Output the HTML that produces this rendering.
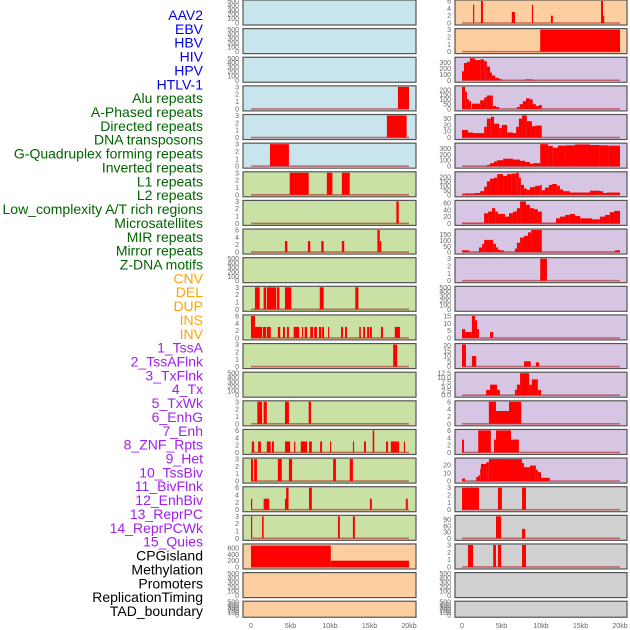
<!DOCTYPE html>
<html><head><meta charset="utf-8"><style>
body{margin:0;background:#fff;}
svg{display:block;font-family:"Liberation Sans",sans-serif;}
</style></head><body>
<svg id="chart" width="630" height="630" viewBox="0 0 630 630" xmlns="http://www.w3.org/2000/svg"></svg>
<script>
const labels=["AAV2","EBV","HBV","HIV","HPV","HTLV-1","Alu repeats","A-Phased repeats","Directed repeats","DNA transposons","G-Quadruplex forming repeats","Inverted repeats","L1 repeats","L2 repeats","Low_complexity A/T rich regions","Microsatellites","MIR repeats","Mirror repeats","Z-DNA motifs","CNV","DEL","DUP","INS","INV","1_TssA","2_TssAFlnk","3_TxFlnk","4_Tx","5_TxWk","6_EnhG","7_Enh","8_ZNF_Rpts","9_Het","10_TssBiv","11_BivFlnk","12_EnhBiv","13_ReprPC","14_ReprPCWk","15_Quies","CPGisland","Methylation","Promoters","ReplicationTiming","TAD_boundary"];
const labelGroups=[6,13,5,15,5];
const xTicks=[0,5,10,15,20];
const xTickLabels=["0","5kb","10kb","15kb","20kb"];
const T500=[0,100,200,300,400,500],T3=[0,1,2,3],T6=[0,2,4,6];
const leftBg=["b","b","b","b","b","b","g","g","g","g","g","g","g","g","g","g","g","g","g","o","o","o"];
const rightBg=["o","o","p","p","p","p","p","p","p","p","p","p","p","p","p","p","p","k","k","k","k","k"];
const leftMax=[500,500,500,3,3,3,3,3,6,500,3,6,3,500,3,6,3,6,3,700,500,500];
const rightMax=[6,3,370,230,35,370,245,65,190,3,500,15,21,12.5,6,6,27,3,105,3,500,500];
const leftTicks=[T500,T500,T500,T3,T3,T3,T3,T3,T6,T500,T3,T6,T3,T500,T3,T6,T3,T6,T3,[0,200,400,600],T500,T500];
const rightTicks=[T6,T3,[0,100,200,300],[0,50,100,150,200],[0,10,20,30],[0,100,200,300],[0,50,100,150,200],[0,20,40,60],[0,50,100,150],T3,T500,[0,5,10,15],[0,5,10,15,20],[0,2.5,5,7.5,10,12.5],T6,T6,[0,10,20],T3,[0,30,60,90],T3,T500,T500];
const leftSegs=[[],[],[],
[[18.6,20,3]],
[[17.2,19.7,3]],
[[2.4,4.8,3]],
[[4.9,7.3,3],[9.6,10.3,3],[11.5,12.5,3]],
[[18.4,18.7,3]],
[[4.3,4.6,3],[7.2,7.5,3],[8.9,9.2,3],[11.5,11.8,3],[16.0,16.3,6],[16.3,16.5,3]],
[],
[[0.5,1.1,3],[1.6,1.9,3],[2.0,3.2,3],[3.3,3.6,3],[4.3,5.1,3],[8.7,9.2,3],[13.2,13.6,3]],
[[0,0.5,6],[0.5,1.4,3],[1.5,1.9,3],[2.0,2.5,3],[3.4,3.7,3],[4.05,4.3,3],[4.55,4.8,3],[5.4,6.1,3],[6.45,6.6,3],[6.8,7.1,3],[7.5,7.85,3],[8.0,8.35,3],[8.6,8.9,3],[9.0,9.25,3],[9.75,9.9,3],[11.4,11.65,3],[11.9,12.15,3],[13.7,13.9,3],[14.2,14.45,3],[14.7,14.95,3],[15.05,15.3,3],[16.45,16.7,3],[18.2,18.85,3]],
[[18.0,18.5,3]],
[],
[[0.8,1.4,3],[1.6,2.0,3],[4.3,4.8,3],[7.3,7.6,3]],
[[15.4,15.6,6],[0.1,0.4,3],[0.9,1.25,3],[2.0,2.5,3],[2.65,2.9,3],[4.3,4.95,3],[5.45,5.6,3],[6.3,7.1,3],[7.35,7.7,3],[8.75,9.0,3],[10.0,10.15,3],[12.9,13.05,3],[14.3,14.55,3],[17.1,17.35,3],[17.7,18.5,3],[18.5,18.75,3],[19.35,19.5,3]],
[[0,0.25,3],[0.4,0.75,3],[3.4,3.9,3],[4.8,5.2,3],[10.4,10.75,3],[12.5,12.9,3]],
[[0,0.15,3],[1.6,2.3,3],[4.3,4.5,3],[4.45,4.75,6],[7.35,7.7,6],[15.05,15.3,3],[19.6,19.85,3]],
[[0,0.15,3],[1.4,1.6,3],[11.0,11.25,3],[12.9,13.15,3]],
[[0,10.1,680],[10.1,20,200]],
[],[]];
const rightSegs=[
[[1.4,1.55,5],[2.4,2.65,6],[6.3,6.7,3],[8.85,9.0,5],[11.25,11.5,2],[17.6,17.85,6],[17.85,18.0,2]],
[[9.9,20,3]],
[[0,0.25,150],[0.25,0.63,290],[0.63,1.0,310],[1.0,1.65,370],[1.65,2.3,340],[2.3,2.8,350],[2.8,3.15,320],[3.15,3.55,230],[3.55,3.8,130],[3.8,4.2,80],[4.2,4.7,40],[4.7,5.05,20],[8.0,9.0,15]],
[[0,0.4,230],[0.4,0.63,180],[0.63,0.9,100],[0.9,1.15,80],[1.25,2.3,55],[2.3,2.8,90],[2.8,3.15,120],[3.15,3.9,140],[3.9,4.3,30],[4.3,4.7,20],[6.95,7.3,20],[7.3,7.7,50],[7.7,8.1,80],[8.1,8.6,110],[8.6,8.95,100],[8.95,9.35,50],[9.35,9.75,30],[9.75,10.1,40]],
[[0,0.75,12],[0.75,1.4,8],[1.4,2.8,7],[2.8,3.15,17],[3.15,3.65,30],[3.65,4.05,33],[4.05,4.7,22],[4.7,5.05,15],[5.05,5.7,20],[5.7,6.45,8],[6.45,6.85,7],[6.85,7.2,17],[7.2,7.6,30],[7.6,8.2,35],[8.2,8.85,26],[8.85,9.25,18],[9.25,10.1,19]],
[[3.15,3.55,20],[3.55,4.05,50],[4.05,4.45,80],[4.45,5.2,100],[5.2,6.45,125],[6.45,7.35,110],[7.35,8.0,90],[8.0,8.6,70],[8.6,9.0,40],[9.0,9.9,50],[9.9,10.9,370],[10.9,11.5,340],[11.5,12.15,310],[12.15,13.05,345],[13.05,14.3,350],[14.3,16.2,365],[16.2,17.45,355],[17.45,18.5,350],[18.5,20,345]],
[[0,0.4,12],[0.4,1.65,15],[1.65,2.3,20],[2.3,2.8,40],[2.8,3.15,90],[3.15,3.55,150],[3.55,4.05,180],[4.05,4.45,190],[4.45,5.2,230],[5.2,5.7,210],[5.7,6.3,230],[6.3,6.85,235],[6.85,7.2,245],[7.2,7.45,190],[7.45,7.85,110],[7.85,8.2,70],[8.2,8.6,55],[8.6,9.25,85],[9.25,9.9,100],[9.9,10.1,110],[10.1,10.5,50],[10.5,11.0,80],[11.0,11.4,110],[11.4,12.0,120],[12.0,12.4,100],[12.4,12.8,60],[12.8,13.65,40],[13.65,16.2,25],[16.2,17.45,45],[17.45,17.85,40],[17.85,18.35,20],[18.35,20,25]],
[[0,2.8,2],[2.8,3.3,30],[3.3,3.8,35],[3.8,4.2,45],[4.2,4.55,35],[4.55,5.45,28],[5.45,5.95,20],[5.95,6.45,30],[6.45,6.95,35],[6.95,7.35,45],[7.35,8.1,65],[8.1,8.6,55],[8.6,9.1,45],[9.1,9.6,42],[9.6,10.1,35],[10.1,11.9,2],[11.9,12.4,15],[12.4,13.05,20],[13.05,13.65,25],[13.65,14.3,28],[14.3,14.95,22],[14.95,16.45,15],[16.45,17.45,12],[17.45,18.1,20],[18.1,18.7,25],[18.7,19.25,33],[19.25,20,37]],
[[0,0.9,15],[0.9,2.15,2],[2.15,2.55,40],[2.55,2.8,70],[2.8,3.95,105],[3.95,4.3,70],[4.3,4.55,40],[4.55,4.8,20],[4.8,5.3,15],[5.3,6.7,2],[6.7,6.95,30],[6.95,7.35,80],[7.35,7.85,125],[7.85,8.35,140],[8.35,8.75,170],[8.75,10.1,190],[10.1,19.35,2],[19.35,20,15]],
[[9.9,10.75,3]],
[],
[[0,0.4,6],[0.4,1.25,4],[1.25,1.65,15],[1.65,1.9,12],[1.9,2.15,6],[3.55,3.95,4]],
[[0,0.5,21],[1.25,1.8,10],[7.85,8.7,5],[9.35,9.75,4]],
[[3.05,3.55,3],[3.55,4.45,6],[4.45,4.8,3],[6.7,6.95,3],[6.95,7.35,6],[7.35,8.5,12.5],[8.5,8.85,6],[8.85,9.6,9],[9.6,10.0,3]],
[[3.4,4.3,6],[4.3,5.95,3.5],[5.95,7.5,6]],
[[0,0.25,3.5],[2.05,3.65,6],[4.05,4.3,3.5],[4.3,6.2,6],[6.2,7.2,3.5]],
[[0,0.4,3],[1.8,2.05,5],[2.05,2.3,7],[2.3,2.4,15],[2.4,3.05,21],[3.05,3.4,23],[3.4,7.6,27],[7.6,7.85,22],[7.85,8.6,17],[8.6,9.35,19],[9.35,9.6,14],[9.6,10.0,11],[10.0,11.1,4]],
[[0,2.15,3],[4.55,5.05,3],[7.6,8.1,3]],
[[4.3,4.95,105],[7.6,8.0,45]],
[[0.75,1.4,3],[3.95,4.3,3],[4.55,4.95,3],[7.6,8.1,3]],
[],[]];

const NS="http://www.w3.org/2000/svg";
const svg=document.getElementById('chart');
function mk(tag,attrs,parent){const e=document.createElementNS(NS,tag);for(const k in attrs)e.setAttribute(k,attrs[k]);(parent||svg).appendChild(e);return e;}
const bgColor={b:"#c8e4ec",g:"#c9e1a4",o:"#fdcfa0",p:"#d6c6e3",k:"#d1d1d1"};
const groupColors=["#0000ee","#006400","#ffa500","#a020f0","#000000"];

// labels
let gi=0,cnt=0;
labels.forEach((t,i)=>{
  while(cnt>=labelGroups[gi]){cnt=0;gi++;}
  cnt++;
  const e=mk('text',{x:203,y:20+i*13.86,'text-anchor':'end','font-size':14,fill:groupColors[gi]});
  e.textContent=t;
  
  
});

function rowGeom(i){const top=i*28.63;const h=i===21?16:25;return{top,h};}
function drawCol(x0panel,x1panel,xz,bgs,maxes,ticks,segs,colName){
  const xs=kb=>xz+kb*7.9;
  for(let i=0;i<22;i++){
    const {top,h}=rowGeom(i);
    const g=mk('g',{});
    
    
    mk('rect',{x:x0panel,y:top,width:x1panel-x0panel,height:h,fill:bgColor[bgs[i]],stroke:"#555",'stroke-width':1.2},g);
    const y0=top+h-2,y1=top+1;
    const ys=v=>y0-(v/maxes[i])*(y0-y1);
    ticks[i].forEach(t=>{
      const tl=mk('text',{x:x0panel-4,y:ys(t)+2.5,'text-anchor':'end','font-size':7,fill:"#666"},g);
      tl.textContent=(maxes[i]===12.5?t.toFixed(1):t);
      
      
    });
    if(segs[i].length){
      const bl=mk('line',{x1:xs(0),x2:xs(20),y1:y0,y2:y0,stroke:"rgba(170,0,0,0.5)",'stroke-width':1.6},g);
      
      
    }
    segs[i].forEach(s=>{
      const r=mk('rect',{x:xs(s[0]),y:ys(s[2]),width:Math.max(0.8,xs(s[1])-xs(s[0])),height:y0-ys(s[2]),fill:"#ff0000"},g);
      
      
    });
  }
  xTicks.forEach((t,k)=>{
    const e=mk('text',{x:xs(t),y:628,'text-anchor':'middle','font-size':7,fill:"#666"});
    e.textContent=xTickLabels[k];
    
    
  });
}
drawCol(243,416,251,leftBg,leftMax,leftTicks,leftSegs,'left');
drawCol(455,627,462,rightBg,rightMax,rightTicks,rightSegs,'right');
</script>
</body></html>
